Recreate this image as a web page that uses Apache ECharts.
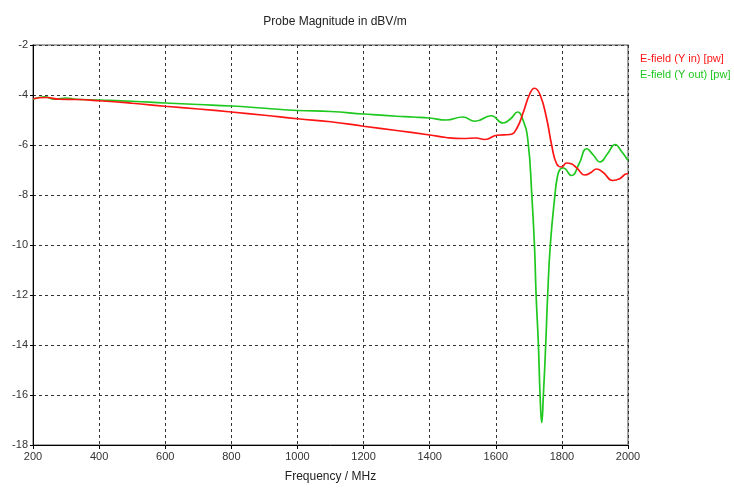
<!DOCTYPE html>
<html>
<head>
<meta charset="utf-8">
<script src="https://cdn.jsdelivr.net/npm/echarts@6/dist/echarts.min.js"></script>
<style>
  html, body { margin: 0; padding: 0; background: #fff; }
  #chart { width: 734px; height: 488px; }
</style>
</head>
<body>
<div id="chart"></div>
<script>
// Probe magnitude (dBV/m) versus frequency (MHz)
const freqIn = [200, 240, 280, 330, 400, 500, 600, 700, 800, 900, 1000, 1100, 1200, 1300, 1400, 1450, 1500, 1540, 1567, 1603, 1643, 1663, 1683, 1703, 1717, 1734, 1754, 1769, 1784, 1799, 1814, 1828, 1845, 1870, 1888, 1905, 1925, 1954, 1975, 1997, 2000];
const valsIn = [-4.15, -4.10, -4.17, -4.18, -4.23, -4.33, -4.45, -4.56, -4.68, -4.81, -4.95, -5.07, -5.25, -5.42, -5.60, -5.70, -5.74, -5.72, -5.78, -5.61, -5.58, -5.35, -4.70, -3.95, -3.73, -3.99, -4.95, -6.00, -6.75, -6.88, -6.72, -6.75, -6.92, -7.20, -7.10, -6.96, -7.10, -7.42, -7.35, -7.15, -7.15];

const freqOut = [200, 235, 265, 300, 330, 400, 500, 600, 700, 800, 900, 1000, 1100, 1200, 1300, 1350, 1400, 1450, 1500, 1537, 1586, 1622, 1645, 1666, 1682, 1697, 1709, 1717, 1722, 1729, 1734, 1739, 1744, 1751, 1757, 1765, 1779, 1786, 1794, 1804, 1829, 1852, 1875, 1895, 1915, 1938, 1961, 1980, 2000];
const valsOut = [-4.17, -4.07, -4.17, -4.12, -4.17, -4.20, -4.25, -4.32, -4.38, -4.44, -4.53, -4.62, -4.66, -4.76, -4.85, -4.88, -4.92, -5.00, -4.88, -5.05, -4.83, -5.12, -4.95, -4.68, -4.99, -5.80, -8.0, -10.0, -12.0, -14.0, -16.0, -17.1, -16.0, -14.0, -12.0, -10.0, -8.0, -7.3, -6.98, -6.92, -7.22, -6.75, -6.15, -6.40, -6.68, -6.35, -5.98, -6.25, -6.62];

const seriesNames = ['E-field (Y in) [pw]', 'E-field (Y out) [pw]'];
const seriesColors = ['#ff1414', '#1ec81e'];

const pairs = (xs, ys) => xs.map((x, i) => [x, ys[i]]);

const font = 'Liberation Sans, Arial, sans-serif';
const chart = echarts.init(document.getElementById('chart'), null, { renderer: 'canvas' });

chart.setOption({
  animation: false,
  backgroundColor: '#ffffff',
  title: {
    text: 'Probe Magnitude in dBV/m',
    left: 330, top: 11, textAlign: 'center',
    textStyle: { fontFamily: font, fontSize: 12, fontWeight: 'normal', color: '#222' }
  },
  legend: {
    orient: 'vertical', left: 635, top: 48, itemGap: 5,
    icon: 'none', itemWidth: 0, itemHeight: 11,
    data: seriesNames.map((n, i) => ({ name: n, textStyle: { color: seriesColors[i] } })),
    textStyle: { fontFamily: font, fontSize: 11, padding: [0, 0, 0, -5] },
    selectedMode: false
  },
  grid: {
    left: 33, right: 106, top: 45, bottom: 41,
    show: true, borderColor: '#8c8c8c', borderWidth: 1.5
  },
  xAxis: {
    type: 'value', min: 200, max: 2000, interval: 200,
    name: 'Frequency / MHz', nameLocation: 'middle', nameGap: 26,
    nameTextStyle: { fontFamily: font, fontSize: 12, color: '#222' },
    axisLine: { show: true, lineStyle: { color: '#000', width: 1 } },
    axisTick: { show: true, length: 4, lineStyle: { color: '#000' } },
    axisLabel: { fontFamily: font, fontSize: 11, color: '#333', margin: 6, formatter: v => String(v) },
    splitLine: { show: true, lineStyle: { color: '#333', type: [3, 3], width: 1 } }
  },
  yAxis: {
    type: 'value', min: -18, max: -2, interval: 2,
    axisLine: { show: true, lineStyle: { color: '#000', width: 1 } },
    axisTick: { show: true, length: 3, lineStyle: { color: '#000' } },
    axisLabel: { fontFamily: font, fontSize: 11, color: '#333', margin: 5 },
    splitLine: { show: true, lineStyle: { color: '#333', type: [3, 3], width: 1 } }
  },
  series: [
    {
      name: seriesNames[0], type: 'line', data: pairs(freqIn, valsIn),
      smooth: 0.5, showSymbol: false,
      lineStyle: { color: seriesColors[0], width: 1.7 }, itemStyle: { color: seriesColors[0] }, z: 3
    },
    {
      name: seriesNames[1], type: 'line', data: pairs(freqOut, valsOut),
      smooth: 0.5, showSymbol: false,
      lineStyle: { color: seriesColors[1], width: 1.7 }, itemStyle: { color: seriesColors[1] }, z: 2
    }
  ]
});
</script>
</body>
</html>
